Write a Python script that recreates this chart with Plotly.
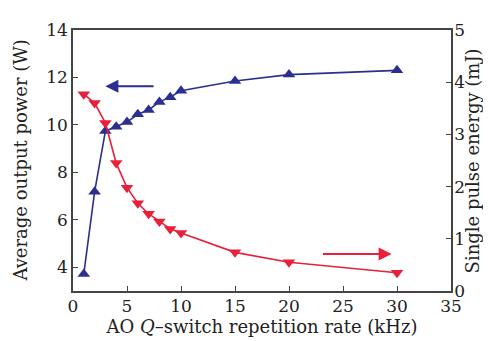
import plotly.graph_objects as go

freq = [1, 2, 3, 4, 5, 6, 7, 8, 9, 10, 15, 20, 30]
power_W = [3.72, 7.18, 9.74, 9.92, 10.12, 10.45, 10.63, 10.97, 11.17, 11.44, 11.85, 12.12, 12.3]
energy_mJ = [3.77, 3.60, 3.22, 2.45, 1.98, 1.68, 1.48, 1.33, 1.19, 1.11, 0.74, 0.55, 0.35]

blue_arrow = dict(x_tail=7.6, x_head=3.0, y=11.63)
red_arrow = dict(x_tail=23.0, x_head=29.5, y=0.71)

left_title = "Average output power (W)"
right_title = "Single pulse energy (mJ)"
x_title = "AO <i>Q</i>\u2013switch repetition rate (kHz)"

BLUE = "#2b2f8f"
RED = "#e8203a"
FONT = "DejaVu Serif, Liberation Serif, serif"
AX = "#444444"
TXT = "#222222"

fig = go.Figure()
fig.add_trace(go.Scatter(x=freq, y=power_W, mode="lines+markers",
                         line=dict(color=BLUE, width=1.6),
                         marker=dict(symbol="triangle-up", size=11, color=BLUE),
                         yaxis="y", showlegend=False))
fig.add_trace(go.Scatter(x=freq, y=energy_mJ, mode="lines+markers",
                         line=dict(color=RED, width=1.6),
                         marker=dict(symbol="triangle-down", size=11, color=RED),
                         yaxis="y2", showlegend=False))

fig.add_annotation(x=blue_arrow["x_head"], y=blue_arrow["y"], ax=blue_arrow["x_tail"], ay=blue_arrow["y"],
                   xref="x", yref="y", axref="x", ayref="y", text="", showarrow=True,
                   arrowhead=2, arrowsize=1.3, arrowwidth=2, arrowcolor=BLUE)
fig.add_annotation(x=red_arrow["x_head"], y=red_arrow["y"], ax=red_arrow["x_tail"], ay=red_arrow["y"],
                   xref="x", yref="y2", axref="x", ayref="y2", text="", showarrow=True,
                   arrowhead=2, arrowsize=1.3, arrowwidth=2, arrowcolor=RED)

# axis titles placed as rotated annotations for exact positioning
fig.add_annotation(x=-0.14, y=0.5, xref="paper", yref="paper", text=left_title,
                   textangle=-90, showarrow=False, xanchor="center", yanchor="middle",
                   font=dict(family=FONT, size=18, color=TXT))
fig.add_annotation(x=1.058, y=0.5, xref="paper", yref="paper", text=right_title,
                   textangle=-90, showarrow=False, xanchor="center", yanchor="middle",
                   font=dict(family=FONT, size=18, color=TXT))

fig.update_layout(
    width=491, height=341,
    margin=dict(l=65, r=48, t=14, b=58),
    paper_bgcolor="white", plot_bgcolor="white",
    font=dict(family=FONT, size=17, color=TXT),
    xaxis=dict(range=[0, 35], tickvals=[0, 5, 10, 15, 20, 25, 30, 35],
               ticks="inside", ticklen=5, tickcolor=AX, showgrid=False, zeroline=False,
               showline=True, linecolor=AX, linewidth=1.5, mirror=True,
               ticklabelstandoff=-1,
               tickfont=dict(family=FONT, size=17),
               title=dict(text=x_title, standoff=5, font=dict(family=FONT, size=18))),
    yaxis=dict(range=[3, 14], tickvals=[4, 6, 8, 10, 12, 14],
               ticks="inside", ticklen=5, tickcolor=AX, showgrid=False, zeroline=False,
               showline=True, linecolor=AX, linewidth=1.5,
               tickfont=dict(family=FONT, size=17)),
    yaxis2=dict(range=[0, 5], tickvals=[0, 1, 2, 3, 4, 5], overlaying="y", side="right",
                ticks="inside", ticklen=5, tickcolor=AX, showgrid=False, zeroline=False,
                showline=True, linecolor=AX, linewidth=1.5, ticklabelstandoff=-2,
                tickfont=dict(family=FONT, size=17)),
)

fig.write_html("out.html")
